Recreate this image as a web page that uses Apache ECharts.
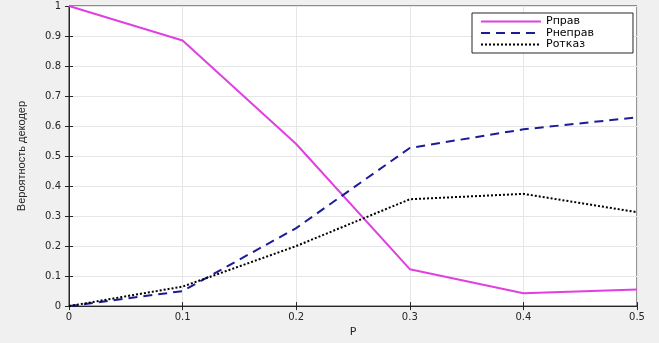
<!DOCTYPE html>
<html><head><meta charset="utf-8">
<script src="https://cdn.jsdelivr.net/npm/echarts@6/dist/echarts.min.js"></script>
<style>html,body{margin:0;padding:0;background:#f0f0f0}#c{width:659px;height:343px}</style>
</head><body><div id="c"></div>
<script>
const categories = [0, 0.1, 0.2, 0.3, 0.4, 0.5];
const pPrav = [1, 0.885, 0.54, 0.123, 0.043, 0.055];
const pNeprav = [0, 0.05, 0.26, 0.527, 0.589, 0.629];
const pOtkaz = [0, 0.065, 0.2, 0.356, 0.374, 0.313];
const yTicks = [0,0.1,0.2,0.3,0.4,0.5,0.6,0.7,0.8,0.9,1];

const pair = a => categories.map((x,i)=>[x,a[i]]);
const font = 'DejaVu Sans, Liberation Sans, Arial, sans-serif';
const chart = echarts.init(document.getElementById('c'));
const baseAxis = {
  axisLine:{show:true,lineStyle:{color:'#262626',width:1}},
  axisTick:{show:true,inside:true,length:4,lineStyle:{color:'#262626'}},
};
chart.setOption({
  backgroundColor:'#f0f0f0',
  animation:false,
  grid:{left:69,right:22,top:6,bottom:28,backgroundColor:'#fff',show:true,borderColor:'#262626',borderWidth:1},
  legend:{
    orient:'vertical', left:472, top:13, backgroundColor:'#fff', borderColor:'#262626', borderWidth:1,
    padding:[3,39,3,8], itemGap:0.5, itemWidth:60, itemHeight:10,
    itemStyle:{opacity:0},
    textStyle:{fontFamily:font,fontSize:11,lineHeight:11,color:'#000'},
    data:['Pправ','Pнеправ','Pотказ']
  },
  xAxis:[
    Object.assign({type:'value',min:0,max:0.5,interval:0.1,
      axisLabel:{fontFamily:font,fontSize:10,color:'#262626',margin:6,formatter:v=>String(+v.toFixed(1))},
      splitLine:{show:true,lineStyle:{color:'#e6e6e6'}},
      name:'P',nameLocation:'middle',nameGap:18,nameTextStyle:{fontFamily:font,fontSize:11,color:'#262626'}},baseAxis),
    Object.assign({type:'value',min:0,max:0.5,interval:0.1,position:'top',axisLabel:{show:false},splitLine:{show:false}},baseAxis)
  ],
  yAxis:[
    Object.assign({type:'value',min:0,max:1,interval:0.1,
      axisLabel:{fontFamily:font,fontSize:10,color:'#262626',margin:8,formatter:v=>String(+v.toFixed(1))},
      splitLine:{show:true,lineStyle:{color:'#e6e6e6'}},
      name:'Вероятность декодер',nameLocation:'middle',nameGap:42,nameRotate:90,
      nameTextStyle:{fontFamily:'Liberation Sans Narrow, Liberation Sans, Arial',fontSize:11,color:'#262626'}},baseAxis),
    Object.assign({type:'value',min:0,max:1,interval:0.1,position:'right',axisLabel:{show:false},splitLine:{show:false}},baseAxis)
  ],
  series:[
    {name:'Pправ',type:'line',data:pair(pPrav),symbol:'none',lineStyle:{color:'#e040e0',width:2},itemStyle:{color:'#e040e0'}},
    {name:'Pнеправ',type:'line',data:pair(pNeprav),symbol:'none',lineStyle:{color:'#1c1c96',width:2,type:[9,6]},itemStyle:{color:'#1c1c96'}},
    {name:'Pотказ',type:'line',data:pair(pOtkaz),symbol:'none',lineStyle:{color:'#000',width:2,type:[2,2]},itemStyle:{color:'#000'}}
  ]
});
</script></body></html>
